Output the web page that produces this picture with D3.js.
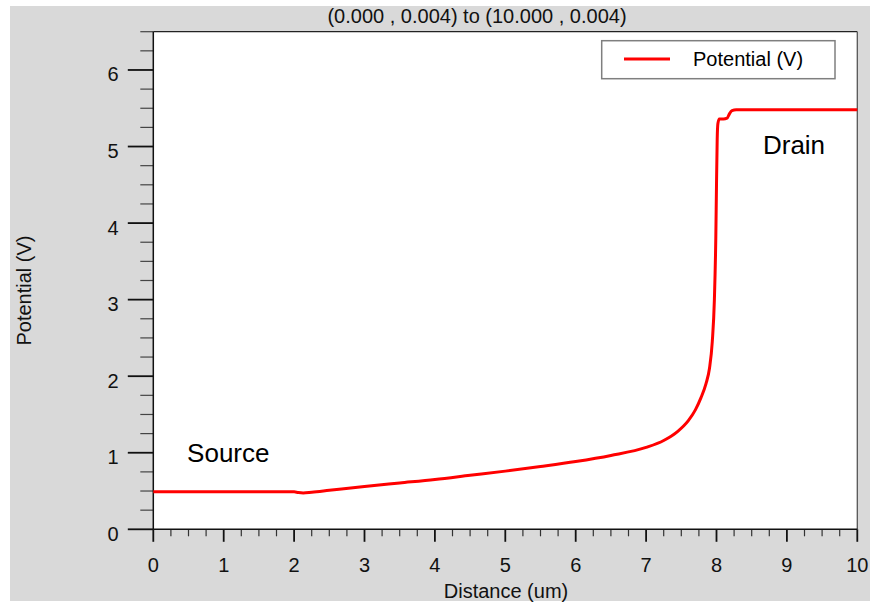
<!DOCTYPE html>
<html>
<head>
<meta charset="utf-8">
<script src="https://cdn.jsdelivr.net/npm/d3@7"></script>
<style>
  html, body { margin: 0; padding: 0; background: #ffffff; }
  svg { display: block; font-family: "Liberation Sans", Arial, sans-serif; }
</style>
</head>
<body>
<svg id="chart" width="870" height="603"></svg>
<script>
// Cut-line potential along the channel
const distance = [0, 0.5, 1, 1.5, 2.0, 2.06, 2.13, 2.25, 2.5, 3.0, 3.5, 4.0, 4.5, 5.0, 5.5, 6.0, 6.5, 7.0,
  7.25, 7.45, 7.6, 7.7, 7.78, 7.85, 7.9, 7.94, 7.97, 7.99, 8.0, 8.01, 8.02, 8.04,
  8.1, 8.15, 8.18, 8.22, 8.28, 9.0, 10.0];
const potential = [0.49, 0.49, 0.49, 0.49, 0.49, 0.48, 0.475, 0.485, 0.51, 0.56, 0.605, 0.65, 0.705, 0.76, 0.82, 0.885, 0.965, 1.07,
  1.16, 1.28, 1.42, 1.56, 1.72, 1.9, 2.1, 2.45, 3.0, 3.8, 4.5, 5.1, 5.3, 5.36,
  5.36, 5.37, 5.42, 5.47, 5.48, 5.48, 5.48];

const xTicks = [0, 1, 2, 3, 4, 5, 6, 7, 8, 9, 10];
const yTicks = [0, 1, 2, 3, 4, 5, 6];
const xDomain = [0, 10];
const yDomain = [0, 6.5];

const titleText = "(0.000 , 0.004) to (10.000 , 0.004)";
const xTitle = "Distance (um)";
const yTitle = "Potential (V)";
const seriesName = "Potential (V)";
const regionLabels = [
  { text: "Source", x: 0.48, y: 0.88 },
  { text: "Drain", x: 8.66, y: 4.905 }
];

const svg = d3.select("#chart");
const plot = { left: 153.3, right: 857.3, top: 31.7, bottom: 529.3 };

// panel background
svg.append("rect")
  .attr("x", 10).attr("y", 6)
  .attr("width", 860).attr("height", 595)
  .attr("fill", "#d9d9d9");

svg.append("rect")
  .attr("x", plot.left).attr("y", plot.top)
  .attr("width", plot.right - plot.left).attr("height", plot.bottom - plot.top)
  .attr("fill", "#ffffff");

const x = d3.scaleLinear().domain(xDomain).range([plot.left, plot.right]);
const y = d3.scaleLinear().domain(yDomain).range([plot.bottom, plot.top]);

// minor ticks every 0.25
const xMinor = d3.range(0, 10.001, 0.25).filter(v => Math.abs(v - Math.round(v)) > 1e-6);
const yMinor = d3.range(0, 6.501, 0.25).filter(v => Math.abs(v - Math.round(v)) > 1e-6);

// x axis
const gx = svg.append("g");
gx.selectAll("line.minor").data(xMinor).join("line")
  .attr("x1", d => x(d)).attr("x2", d => x(d))
  .attr("y1", plot.bottom).attr("y2", plot.bottom + 7)
  .attr("stroke", "#333").attr("stroke-width", 1.2);
gx.selectAll("line.major").data(xTicks).join("line")
  .attr("x1", d => x(d)).attr("x2", d => x(d))
  .attr("y1", plot.bottom).attr("y2", plot.bottom + 12.5)
  .attr("stroke", "#111").attr("stroke-width", 1.8);
gx.selectAll("text").data(xTicks).join("text")
  .attr("x", d => x(d)).attr("y", 572)
  .attr("text-anchor", "middle")
  .attr("font-size", 20).attr("fill", "#111")
  .text(d => d);

// y axis
const gy = svg.append("g");
gy.selectAll("line.minor").data(yMinor).join("line")
  .attr("x1", plot.left - 13).attr("x2", plot.left)
  .attr("y1", d => y(d)).attr("y2", d => y(d))
  .attr("stroke", "#444").attr("stroke-width", 1.2);
gy.selectAll("line.major").data(yTicks).join("line")
  .attr("x1", plot.left - 25.5).attr("x2", plot.left)
  .attr("y1", d => y(d)).attr("y2", d => y(d))
  .attr("stroke", "#111").attr("stroke-width", 1.8);
gy.selectAll("text").data(yTicks).join("text")
  .attr("x", 118.5).attr("y", d => y(d) + 11.5)
  .attr("text-anchor", "end")
  .attr("font-size", 20).attr("fill", "#111")
  .text(d => d);

// plot frame
svg.append("line").attr("x1", plot.left).attr("x2", plot.right)
  .attr("y1", plot.top).attr("y2", plot.top).attr("stroke", "#222").attr("stroke-width", 1.3);
svg.append("line").attr("x1", plot.right).attr("x2", plot.right)
  .attr("y1", plot.top).attr("y2", plot.bottom).attr("stroke", "#555").attr("stroke-width", 1.3);
svg.append("line").attr("x1", plot.left).attr("x2", plot.left)
  .attr("y1", plot.top).attr("y2", plot.bottom).attr("stroke", "#111").attr("stroke-width", 1.5);
svg.append("line").attr("x1", plot.left).attr("x2", plot.right)
  .attr("y1", plot.bottom).attr("y2", plot.bottom).attr("stroke", "#111").attr("stroke-width", 1.5);

// potential curve
const pts = distance.map((d, i) => [d, potential[i]]);
svg.append("path")
  .datum(pts)
  .attr("fill", "none")
  .attr("stroke", "#ff0000")
  .attr("stroke-width", 3)
  .attr("stroke-linejoin", "round")
  .attr("d", d3.line().x(d => x(d[0])).y(d => y(d[1])).curve(d3.curveMonotoneX));

// region labels
svg.selectAll("text.region").data(regionLabels).join("text")
  .attr("class", "region")
  .attr("x", d => x(d.x)).attr("y", d => y(d.y))
  .attr("font-size", 26).attr("fill", "#000")
  .text(d => d.text);

// legend
const lg = svg.append("g");
lg.append("rect")
  .attr("x", 601.7).attr("y", 40.7).attr("width", 233.3).attr("height", 38)
  .attr("fill", "#ffffff").attr("stroke", "#7f7f7f").attr("stroke-width", 1.5);
lg.append("line")
  .attr("x1", 624).attr("x2", 670).attr("y1", 59).attr("y2", 59)
  .attr("stroke", "#ff0000").attr("stroke-width", 3);
lg.append("text")
  .attr("x", 693).attr("y", 66)
  .attr("font-size", 20).attr("fill", "#000")
  .text(seriesName);

// titles
svg.append("text")
  .attr("x", 477).attr("y", 23)
  .attr("text-anchor", "middle").attr("font-size", 20).attr("fill", "#111")
  .text(titleText);
svg.append("text")
  .attr("x", 506).attr("y", 598)
  .attr("text-anchor", "middle").attr("font-size", 20).attr("fill", "#111")
  .text(xTitle);
svg.append("text")
  .attr("transform", "translate(31,290.5) rotate(-90)")
  .attr("text-anchor", "middle").attr("font-size", 20).attr("fill", "#111")
  .text(yTitle);
</script>
</body>
</html>
